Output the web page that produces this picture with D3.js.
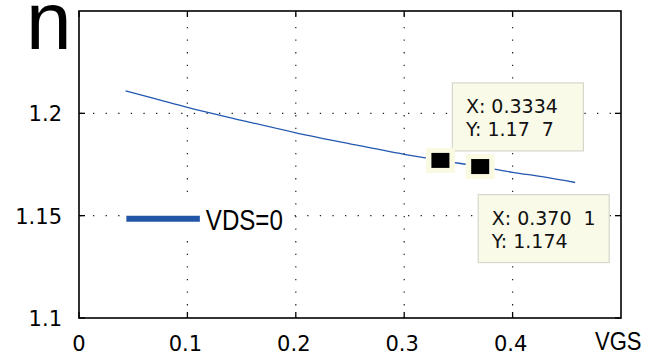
<!DOCTYPE html>
<html>
<head>
<meta charset="utf-8">
<script src="https://cdn.jsdelivr.net/npm/d3@7"></script>
<style>
  body { margin: 0; background: #fff; }
  text { white-space: pre; }
</style>
</head>
<body>
<div id="chart"></div>
<script>
// data
const vgs   = [0.0429, 0.07, 0.10, 0.15, 0.20, 0.25, 0.30, 0.3334, 0.3701, 0.40, 0.43, 0.4577];
const nVals = [1.2110, 1.2072, 1.2029, 1.1966, 1.1905, 1.1851, 1.1800, 1.1770, 1.1740, 1.1712, 1.1688, 1.1662];

const xTicks = [0, 0.1, 0.2, 0.3, 0.4];
const yTicks = [1.1, 1.15, 1.2];

const tipX = [0.3334, 0.3701];
const tipY = [1.177, 1.174];
const tipLines = [["X: 0.3334", "Y: 1.17  7"], ["X: 0.370  1", "Y: 1.174"]];

const legendLabel = "VDS=0";

// layout
const w = 655, h = 356;
const margin = {top: 11, right: 34, bottom: 38, left: 79};
const width = w - margin.left - margin.right;
const height = h - margin.top - margin.bottom;

const x = d3.scaleLinear().domain([0, 0.5]).range([0, width]);
const y = d3.scaleLinear().domain([1.1, 1.25]).range([height, 0]);

const svg = d3.select("#chart").append("svg")
    .attr("width", w)
    .attr("height", h);

const g = svg.append("g").attr("transform", `translate(${margin.left}, ${margin.top})`);

// dotted grid
g.append("g").selectAll("line")
    .data(xTicks.slice(1))
    .enter().append("line")
    .attr("x1", d => x(d)).attr("x2", d => x(d))
    .attr("y1", height).attr("y2", 0)
    .attr("stroke", "#222")
    .attr("stroke-width", 1.2)
    .attr("stroke-dasharray", "1.3,11.3");

g.append("g").selectAll("line")
    .data(yTicks.slice(1))
    .enter().append("line")
    .attr("x1", 0).attr("x2", width)
    .attr("y1", d => y(d)).attr("y2", d => y(d))
    .attr("stroke", "#222")
    .attr("stroke-width", 1.2)
    .attr("stroke-dasharray", "1.3,11.3")
    .attr("stroke-dashoffset", -14);

// inner ticks on all four sides
const tickLen = 6;
const ticks = g.append("g").attr("stroke", "#000").attr("stroke-width", 1.3);
xTicks.forEach(d => {
    ticks.append("line").attr("x1", x(d)).attr("x2", x(d)).attr("y1", height).attr("y2", height - tickLen);
    ticks.append("line").attr("x1", x(d)).attr("x2", x(d)).attr("y1", 0).attr("y2", tickLen);
});
yTicks.forEach(d => {
    ticks.append("line").attr("x1", 0).attr("x2", tickLen).attr("y1", y(d)).attr("y2", y(d));
    ticks.append("line").attr("x1", width).attr("x2", width - tickLen).attr("y1", y(d)).attr("y2", y(d));
});

// tick labels
g.append("g").selectAll("text")
    .data(xTicks)
    .enter().append("text")
    .attr("x", d => x(d) - (d === 0 ? 0 : 2))
    .attr("y", height + 33)
    .attr("text-anchor", "middle")
    .attr("font-family", "DejaVu Sans")
    .attr("font-size", 21)
    .attr("fill", "#000")
    .text(d => d);

g.append("g").selectAll("text")
    .data(yTicks)
    .enter().append("text")
    .attr("x", -17)
    .attr("y", d => y(d) + 8)
    .attr("text-anchor", "end")
    .attr("font-family", "DejaVu Sans")
    .attr("font-size", 21)
    .attr("fill", "#000")
    .text(d => d);

// curve
const line = d3.line()
    .x((d, i) => x(vgs[i]))
    .y(d => y(d))
    .curve(d3.curveMonotoneX);

g.append("path")
    .datum(nVals)
    .attr("fill", "none")
    .attr("stroke", "#2358b0")
    .attr("stroke-width", 1.3)
    .attr("d", line);

// legend (white box hides grid underneath)
const leg = g.append("g");
leg.append("rect")
    .attr("x", x(0.038)).attr("y", y(1.15) - 22)
    .attr("width", x(0.195) - x(0.038)).attr("height", 46)
    .attr("fill", "#fff");
leg.append("line")
    .attr("x1", x(0.0437)).attr("x2", x(0.1115))
    .attr("y1", y(1.15) + 3).attr("y2", y(1.15) + 3)
    .attr("stroke", "#2456a8")
    .attr("stroke-width", 6);
leg.append("text")
    .attr("x", x(0.117))
    .attr("y", y(1.15) + 14)
    .attr("font-family", "Liberation Sans")
    .attr("font-size", 29)
    .attr("textLength", 77)
    .attr("lengthAdjust", "spacingAndGlyphs")
    .attr("fill", "#000")
    .text(legendLabel);

// box
g.append("rect")
    .attr("x", 0).attr("y", 0)
    .attr("width", width).attr("height", height)
    .attr("fill", "none")
    .attr("stroke", "#000")
    .attr("stroke-width", 1.6);

// data tips
const tipBox = [{dx: 12, dy: -77.5, w: 131, h: 68}, {dx: -2, dy: 28, w: 131, h: 68}];
const tips = g.append("g");
tipX.forEach((tx, i) => {
    let cx = x(tx), cy = y(tipY[i]);
    let b = tipBox[i];
    let tg = tips.append("g");
    tg.append("rect")
        .attr("x", cx + b.dx - margin.left + margin.left).attr("y", cy + b.dy)
        .attr("width", b.w).attr("height", b.h)
        .attr("fill", "#fafae8")
        .attr("stroke", "#d6d6cc")
        .attr("stroke-width", 1.2);
    tipLines[i].forEach((t, j) => {
        tg.append("text")
            .attr("x", cx + b.dx + 13.5)
            .attr("y", cy + b.dy + 30 + j * 23.5)
            .attr("font-family", "DejaVu Sans")
            .attr("font-size", 19)
            .attr("fill", "#111")
            .text(t);
    });
    // marker
    tg.append("rect")
        .attr("x", cx - 14.5).attr("y", cy - 12.5)
        .attr("width", 29).attr("height", 25)
        .attr("fill", "#fafae2");
    tg.append("rect")
        .attr("x", cx - 9).attr("y", cy - 7.5)
        .attr("width", 18).attr("height", 15)
        .attr("fill", "#000");
});

// axis titles
svg.append("text")
    .attr("x", 595)
    .attr("y", 350)
    .attr("font-family", "Liberation Sans")
    .attr("font-size", 25)
    .attr("textLength", 46.5)
    .attr("lengthAdjust", "spacingAndGlyphs")
    .attr("fill", "#000")
    .text("VGS");

svg.append("text")
    .attr("x", 26)
    .attr("y", 48.5)
    .attr("font-family", "Liberation Sans")
    .attr("font-size", 82)
    .attr("fill", "#000")
    .text("n");
</script>
</body>
</html>
